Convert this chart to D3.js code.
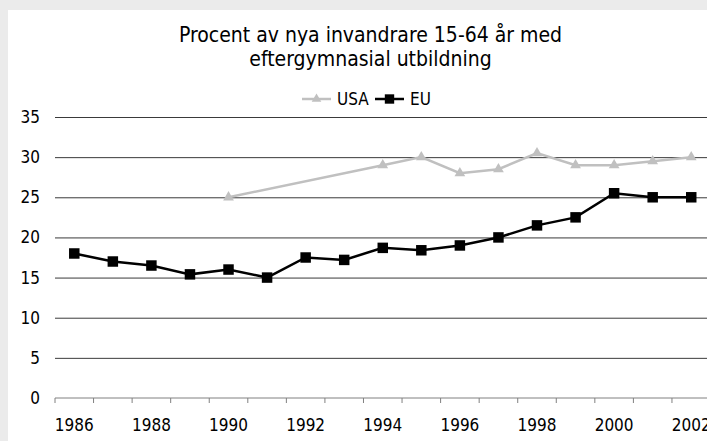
<!DOCTYPE html>
<html>
<head>
<meta charset="utf-8">
<script src="https://cdn.jsdelivr.net/npm/d3@7"></script>
<style>
    html, body { margin: 0; padding: 0; background: #ebebeb; }
    svg { display: block; font-family: 'DejaVu Sans Condensed', 'DejaVu Sans', sans-serif; font-stretch: condensed; }
</style>
</head>
<body>
<div id="chart"></div>
<script>
const YEARS = d3.range(1986, 2003);
const USA = [null, null, null, null, 25, null, null, null, 29, 30, 28, 28.5, 30.5, 29, 29, 29.5, 30];
const EU = [18, 17, 16.5, 15.4, 16, 15, 17.5, 17.2, 18.7, 18.4, 19, 20, 21.5, 22.5, 25.5, 25, 25];
const Y_TICKS = [0, 5, 10, 15, 20, 25, 30, 35];
const TITLE = ['Procent av nya invandrare 15-64 år med', 'eftergymnasial utbildning'];
const SERIES = [
    { name: 'USA', values: USA, colour: '#c0c0c0', symbol: d3.symbolTriangle, size: 50 },
    { name: 'EU', values: EU, colour: '#000000', symbol: d3.symbolSquare, size: 110 }
];

(function () {
    'use strict';

    const W = 707, H = 441;
    const plot = { left: 55, top: 117, bottom: 398, step: 38.56 };

    const svg = d3.select('#chart').append('svg').attr('width', W).attr('height', H);

    // vit bakgrund, den gråa kanten syns till vänster och överst
    svg.append('rect').attr('x', 8).attr('y', 10).attr('width', W).attr('height', H).attr('fill', '#fff');

    const xScale = d3.scaleBand().domain(YEARS)
        .range([plot.left, plot.left + YEARS.length * plot.step]).padding(0);
    const yScale = d3.scaleLinear().domain([0, 35]).range([plot.bottom, plot.top]);
    const plotRight = xScale.range()[1];

    // rutnät
    svg.append('g').attr('class', 'grid')
        .attr('transform', 'translate(' + plot.left + ',0)')
        .call(d3.axisLeft(yScale).tickValues(Y_TICKS.slice(1)).tickSize(-(plotRight - plot.left)).tickFormat(''))
        .call(function (g) { g.select('.domain').remove(); })
        .selectAll('line').attr('stroke', '#3a3a3a');

    // y-etiketter
    svg.append('g').attr('class', 'yaxis')
        .attr('transform', 'translate(' + plot.left + ',0)')
        .call(d3.axisLeft(yScale).tickValues(Y_TICKS).tickSize(0).tickPadding(15))
        .call(function (g) { g.select('.domain').remove(); })
        .selectAll('text').attr('fill', '#000').style('font-size', '17px')
        .style('font-family', null);

    // x-axel: linje, streck mellan kategorierna, etikett vartannat år
    const xAxis = svg.append('g').attr('class', 'xaxis')
        .attr('transform', 'translate(0,' + plot.bottom + ')');

    xAxis.call(d3.axisBottom(xScale).tickSize(0).tickPadding(21)
        .tickFormat(function (d) { return d % 2 === 0 ? d : ''; }))
        .call(function (g) { g.select('.domain').remove(); })
        .selectAll('text').attr('fill', '#000').style('font-size', '17px');

    xAxis.append('line').attr('x1', plot.left).attr('x2', plotRight)
        .attr('stroke', '#808080');

    xAxis.selectAll('.sep').data(YEARS.concat([YEARS[YEARS.length - 1] + 1]))
        .enter().append('line').attr('class', 'sep')
        .attr('x1', function (d, i) { return plot.left + i * xScale.step(); })
        .attr('x2', function (d, i) { return plot.left + i * xScale.step(); })
        .attr('y1', 0).attr('y2', 5)
        .attr('stroke', '#808080');

    // d3-axlarna sätter egen font-family på g, ta bort den så att svg:ns gäller
    svg.selectAll('.yaxis, .xaxis, .grid').attr('font-family', null).attr('font-size', null);

    const cx = function (d) { return xScale(d.year) + xScale.bandwidth() / 2; };

    SERIES.forEach(function (s) {
        const pts = YEARS.map(function (y, i) { return { year: y, value: s.values[i] }; })
            .filter(function (d) { return d.value !== null; });

        svg.append('path').datum(pts)
            .attr('fill', 'none').attr('stroke', s.colour).attr('stroke-width', 2.5)
            .attr('d', d3.line().x(cx).y(function (d) { return yScale(d.value); }));

        svg.selectAll('.m-' + s.name).data(pts).enter().append('path')
            .attr('class', 'm-' + s.name)
            .attr('transform', function (d) { return 'translate(' + cx(d) + ',' + yScale(d.value) + ')'; })
            .attr('d', d3.symbol().type(s.symbol).size(s.size))
            .attr('fill', s.colour);
    });

    // titel
    svg.append('g').selectAll('text').data(TITLE).enter().append('text')
        .attr('x', 370.5).attr('y', function (d, i) { return 41.5 + i * 24; })
        .attr('text-anchor', 'middle').style('font-size', '21px')
        .text(function (d) { return d; });

    // förklaring
    const legend = svg.append('g').attr('class', 'legend').attr('transform', 'translate(0,99)');
    const legendX = [302, 375];

    const items = legend.selectAll('.item').data(SERIES).enter().append('g')
        .attr('class', 'item')
        .attr('transform', function (d, i) { return 'translate(' + legendX[i] + ',0)'; });

    items.append('line').attr('x1', 0).attr('x2', 29)
        .attr('stroke', function (d) { return d.colour; }).attr('stroke-width', 2.5);

    items.append('path').attr('transform', 'translate(14.5,0)')
        .attr('d', function (d) { return d3.symbol().type(d.symbol).size(d.size * 0.8)(); })
        .attr('fill', function (d) { return d.colour; });

    items.append('text').attr('x', 35).attr('dy', '0.36em')
        .style('font-size', '17px')
        .text(function (d) { return d.name; });
}());
</script>
</body>
</html>
